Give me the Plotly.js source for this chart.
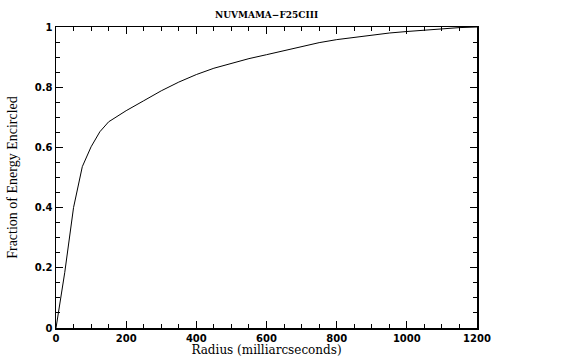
<!DOCTYPE html>
<html>
<head>
<meta charset="utf-8">
<script src="https://cdn.plot.ly/plotly-3.0.1.min.js"></script>
<style>html,body{margin:0;padding:0;background:#fff;}#chart{width:580px;height:359px;}</style>
</head>
<body>
<div id="chart"></div>
<script>
const chartTitle = "NUVMAMA\u2212F25CIII";
const xLabel = "Radius (milliarcseconds)";
const yLabel = "Fraction of Energy Encircled";
const radius = [0, 25, 50, 75, 100, 125, 150, 175, 200, 250, 300, 350, 400, 450, 500, 550, 600, 650, 700, 750, 800, 850, 900, 950, 1000, 1050, 1100, 1150, 1200];
const fraction = [0, 0.185, 0.40, 0.536, 0.602, 0.652, 0.685, 0.705, 0.722, 0.755, 0.788, 0.817, 0.842, 0.863, 0.880, 0.895, 0.908, 0.921, 0.934, 0.948, 0.958, 0.966, 0.974, 0.980, 0.985, 0.990, 0.994, 0.998, 1.0];
const xTicks = [0, 200, 400, 600, 800, 1000, 1200];
const yTicks = [0, 0.2, 0.4, 0.6, 0.8, 1];

const tickFont = {family: "DejaVu Sans", size: 10, color: "#000", weight: "bold"};
const axisCommon = {
  showgrid: false, zeroline: false, showline: true, linecolor: "#000", linewidth: 1.5,
  mirror: "ticks", ticks: "inside", ticklen: 7, tickwidth: 1, tickcolor: "#000",
  tickfont: tickFont
};
const trace = {x: radius, y: fraction, type: "scatter", mode: "lines",
  line: {color: "#000", width: 1}, hoverinfo: "none"};
const layout = {
  width: 580, height: 359,
  margin: {l: 56, r: 103, t: 27, b: 31},
  paper_bgcolor: "#fff", plot_bgcolor: "#fff",
  showlegend: false,
  title: {text: chartTitle, font: {family: "DejaVu Serif", size: 9, color: "#000", weight: "bold"}, x: 0.4595, xanchor: "center", y: 0.958, yanchor: "middle"},
  xaxis: Object.assign({}, axisCommon, {
    range: [0, 1200], tickvals: xTicks, ticktext: xTicks.map(String),
    minor: {dtick: 50, ticks: "inside", ticklen: 4, tickcolor: "#000", tickwidth: 1},
    title: {text: xLabel, font: {family: "DejaVu Serif", size: 12, color: "#000"}, standoff: 2}
  }),
  yaxis: Object.assign({}, axisCommon, {
    range: [0, 1], tickvals: yTicks, ticktext: yTicks.map(String),
    minor: {dtick: 0.05, ticks: "inside", ticklen: 4, tickcolor: "#000", tickwidth: 1},
    title: {text: yLabel, font: {family: "Liberation Serif", size: 14, color: "#000"}, standoff: 14}
  })
};
Plotly.newPlot("chart", [trace], layout, {staticPlot: true, displayModeBar: false});
</script>
</body>
</html>
